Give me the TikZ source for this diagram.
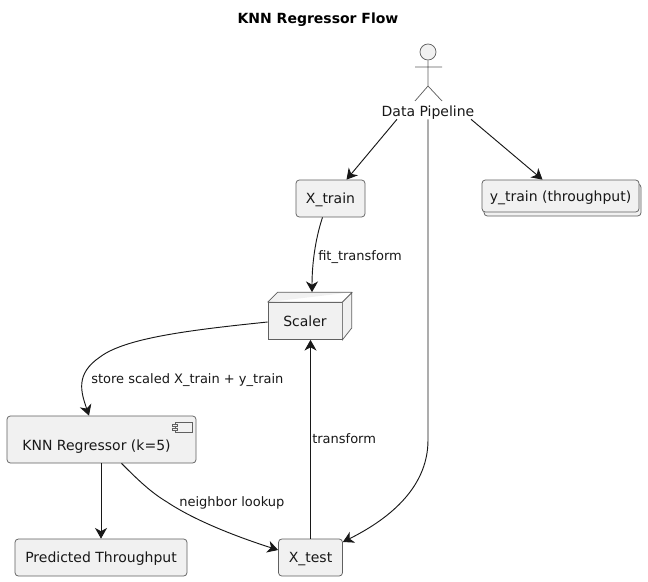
\documentclass[tikz,border=0pt]{standalone}
\usepackage{fontspec}
\setmainfont{DejaVu Sans}
\usetikzlibrary{positioning,arrows.meta,calc}
\definecolor{boxfill}{HTML}{F1F1F1}
\definecolor{boxline}{HTML}{606060}
\definecolor{inkline}{HTML}{181818}
\tikzset{
  >={Stealth[length=8pt,width=9pt,inset=2.4pt]},
  box/.style={draw=boxline,fill=boxfill,line width=0.55pt,rounded corners=2.5pt,
    inner sep=0pt,font=\fontsize{10.5}{12}\selectfont,text=inkline,text height=10pt,text depth=2pt},
  flow/.style={->,line width=0.7pt,draw=inkline},
  flowlbl/.style={font=\fontsize{9.75}{12}\selectfont,text=inkline,inner sep=0pt,text height=10pt,text depth=2pt},
  actorline/.style={draw=boxline,line width=0.55pt},
  pagetitle/.style={font=\fontsize{10.5}{12}\selectfont\bfseries,inner sep=0pt,text height=10pt,text depth=2pt},
  plainlbl/.style={font=\fontsize{10.5}{12}\selectfont,text=inkline,inner sep=0pt,text height=10pt,text depth=2pt},
}
\begin{document}
\begin{tikzpicture}[x=0.75pt,y=-0.75pt]
  \useasboundingbox[fill=white] (0,0) rectangle (648,581);
  \node[pagetitle] (title) at (318,18) {KNN Regressor Flow};

  \node[circle,actorline,fill=boxfill,minimum size=12pt,inner sep=0pt] (head) at (428,52) {};
  \coordinate (hip) at (428,86);
  \coordinate (armL) at (415,67);
  \coordinate (armR) at (442,67);
  \coordinate (legL) at (415,101);
  \coordinate (legR) at (442,101);
  \draw[actorline] (head.south) -- (hip) (armL) -- (armR) (legL) -- (hip) -- (legR);
  \node[plainlbl] (pipeline) at (428,111) {Data Pipeline};

  \node[box,minimum width=51.75pt,minimum height=27.75pt] (xtrain) at (330.5,198.5) {X\_train};
  \node[box,minimum width=117.75pt,minimum height=24pt] (ytrainback) at (562.5,200) {};
  \node[box,minimum width=117.75pt,minimum height=24pt] (ytrain) at (560.5,196) {y\_train (throughput)};

  \node[box,rounded corners=0pt,minimum width=55.5pt,minimum height=27.75pt] (scaler) at (305,321) {Scaler};
  \draw[box,rounded corners=0pt,fill=boxfill] (scaler.north west) -- ++(10,-10) -- ++(74,0) -- ++(0,36) -- (scaler.south east)
    -- (scaler.north east) -- ++(10,-10) (scaler.north east) -- (scaler.north west);

  \node[box,minimum width=141.75pt,minimum height=35.25pt] (knn) at (101.5,439.5) {};
  \node[plainlbl] (knnlbl) at (96.5,445) {KNN Regressor (k=5)};
  \node[box,rounded corners=0pt,minimum width=12.75pt,minimum height=7.5pt,text height=0pt,text depth=0pt] (knnicon) at (184,427) {};
  \node[box,rounded corners=0pt,minimum width=3.75pt,minimum height=1.5pt,text height=0pt,text depth=0pt] (knnpinA) at (175,425) {};
  \node[box,rounded corners=0pt,minimum width=3.75pt,minimum height=1.5pt,text height=0pt,text depth=0pt] (knnpinB) at (175,429) {};

  \node[box,minimum width=129pt,minimum height=27.75pt] (predicted) at (101,557.5) {Predicted Throughput};
  \node[box,minimum width=48pt,minimum height=27.75pt] (xtest) at (310.5,557.5) {X\_test};

  \draw[flow] ($(pipeline.south)+(-31,0)$) -- ($(xtrain.north)+(16,0)$);
  \draw[flow] ($(pipeline.south)+(43,0)$) -- ($(ytrain.north)+(-18,0)$);
  \draw[flow] (pipeline.south) -- (428,440) .. controls (428,490) and (385,521) .. (xtest.north east |- 0,542);
  \draw[flow] ($(xtrain.south)+(-8,0)$) .. controls (315,240) and (312,265) .. ($(scaler.north)+(7,-10)$);
  \draw[flow] (scaler.west |- 0,322) .. controls (190,330) and (125,338) .. (100,357)
    .. controls (75,374) and (81,392) .. ($(knn.north)+(-12.5,0)$);
  \draw[flow] (knn.south -| predicted.north) -- (predicted.north);
  \draw[flow] ($(knn.south)+(20,0)$) .. controls (140,482) and (152,493) .. (167,502)
    .. controls (200,524) and (250,541) .. (xtest.west |- 0,550);
  \draw[flow] (xtest.north) -- (xtest.north |- scaler.south);

  \node[flowlbl,anchor=west] (fitlbl) at (318,255) {fit\_transform};
  \node[flowlbl,anchor=west] (storelbl) at (91,378) {store scaled X\_train + y\_train};
  \node[flowlbl,anchor=west] (transformlbl) at (312,438) {transform};
  \node[flowlbl,anchor=west] (lookuplbl) at (179,501) {neighbor lookup};
\end{tikzpicture}
\end{document}
